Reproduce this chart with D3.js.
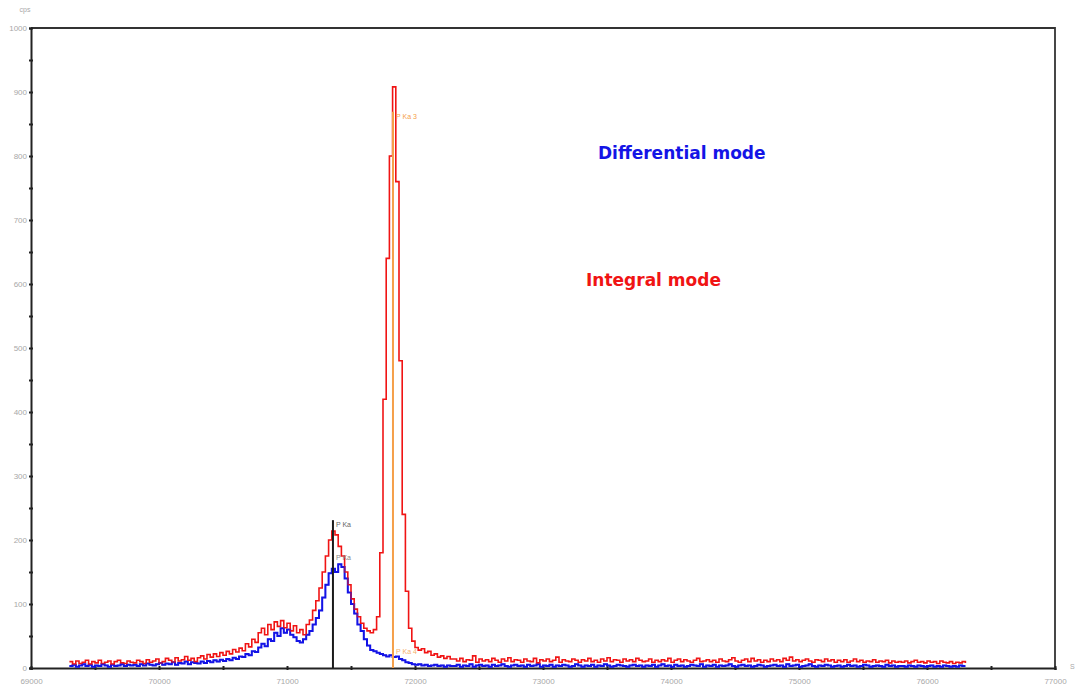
<!DOCTYPE html>
<html>
<head>
<meta charset="utf-8">
<script src="https://cdn.jsdelivr.net/npm/d3@7"></script>
<style>
  body { margin: 0; background: #fff; }
  svg { display: block; }
  .axis path { stroke: #222; stroke-width: 2; }
  .axis line { stroke: #222; stroke-width: 2; }
  .axis text { fill: #a8a8a8; font: 8px "Liberation Sans", Arial, sans-serif; }
</style>
</head>
<body>
<svg width="1075" height="688"></svg>
<script>
// spectrum channels: 25 eV wide, first channel at 69300 eV
var startEnergy = 69300, channelWidth = 25;

// Integral mode (red), cps per channel
var integral = [
  10, 6, 11, 7, 9, 12, 6, 10, 8, 12, 7, 9, 11, 6, 10, 12, 8, 7, 11, 9,
  8, 12, 10, 7, 13, 9, 11, 14, 8, 10, 15, 12, 9, 16, 11, 13, 18, 12, 15, 10,
  16, 19, 14, 21, 17, 22, 18, 24, 20, 26, 22, 29, 25, 31, 27, 38, 33, 45, 40, 55,
  62, 52, 68, 60, 72, 65, 74, 63, 70, 58, 66, 55, 60, 52, 68, 75, 90, 105, 125, 150,
  175, 200, 214, 208, 190, 175, 150, 130, 108, 92, 80, 70, 62, 58, 55, 60, 80, 180, 420, 640,
  800, 908, 760, 480, 240, 120, 62, 42, 32, 28, 30, 24, 26, 20, 22, 17, 19, 15, 18, 14,
  14, 11, 15, 10, 13, 12, 19, 9, 14, 11, 13, 10, 15, 12, 9, 14, 11, 16, 10, 13,
  12, 9, 14, 11, 10, 15, 8, 13, 11, 14, 10, 12, 17, 9, 13, 11, 10, 14, 12, 9,
  13, 11, 15, 10, 12, 9, 14, 11, 16, 10, 13, 12, 9, 14, 11, 13, 10, 15, 12, 10,
  11, 14, 9, 12, 10, 13, 11, 15, 9, 12, 14, 10, 13, 11, 9, 12, 15, 10, 11, 13,
  10, 12, 9, 14, 11, 10, 13, 16, 11, 9, 12, 14, 10, 15, 11, 13, 9, 12, 10, 14,
  11, 13, 10, 15, 12, 17, 11, 13, 10, 12, 14, 11, 9, 13, 12, 10, 14, 11, 13, 9,
  12, 10, 13, 9, 11, 14, 10, 12, 9, 11, 10, 13, 9, 11, 10, 12, 8, 11, 9, 10,
  9, 11, 8, 10, 12, 9, 10, 8, 11, 9, 10, 7, 11, 9, 8, 10, 7, 9, 8, 10,
  8
];

// Differential mode (blue), cps per channel
var differential = [
  3, 5, 2, 4, 6, 3, 5, 2, 4, 3, 6, 4, 2, 5, 3, 4, 6, 3, 5, 4,
  5, 3, 6, 4, 7, 5, 4, 6, 8, 5, 7, 6, 9, 5, 8, 7, 10, 6, 9, 8,
  7, 10, 8, 11, 9, 12, 10, 13, 11, 14, 12, 16, 14, 18, 17, 22, 20, 26, 25, 32,
  38, 34, 45, 42, 55, 50, 62, 55, 60, 52, 48, 42, 40, 45, 52, 58, 68, 78, 90, 110,
  130, 148, 155, 150, 162, 158, 140, 118, 100, 85, 68, 58, 45, 35, 28, 26, 24, 22, 20, 18,
  20, 17, 18, 14, 12, 9, 8, 6, 5, 6, 4, 5, 3, 4, 5, 3, 4, 2, 4, 3,
  3, 5, 2, 4, 3, 6, 2, 4, 5, 3, 4, 2, 5, 3, 4, 6, 3, 2, 4, 5,
  3, 4, 2, 5, 3, 4, 6, 2, 4, 3, 5, 2, 4, 3, 5, 4, 2, 3, 6, 4,
  2, 4, 3, 5, 2, 4, 3, 6, 4, 2, 3, 5, 4, 3, 2, 4, 5, 3, 4, 2,
  4, 3, 5, 2, 4, 6, 3, 4, 2, 5, 3, 4, 2, 3, 5, 4, 3, 6, 2, 4,
  3, 5, 2, 4, 3, 4, 6, 3, 2, 4, 5, 3, 4, 2, 3, 5, 4, 2, 3, 4,
  5, 3, 4, 2, 6, 3, 4, 5, 2, 3, 4, 6, 3, 2, 4, 3, 5, 4, 2, 3,
  4, 2, 3, 5, 3, 4, 2, 3, 5, 4, 2, 3, 4, 3, 2, 5, 3, 4, 2, 3,
  3, 2, 4, 3, 2, 4, 3, 2, 3, 4, 2, 3, 2, 4, 3, 2, 3, 2, 4, 3,
  3
];

// line markers
var markerEnergies = [71359, 71828];
var markerTops = [231, 869];
var markerColors = ["#1a1a1a", "#f5a04a"];
var markerLabelsTop = ["P Ka", "P Ka 3"];
var markerLabelsLow = ["P Ka", "P Ka 4"];
var markerLowCps = [168, 22];

var xTicks = d3.range(69000, 77001, 500);
var yTicks = d3.range(0, 1001, 50);

var svg = d3.select("svg"),
    margin = {top: 28, right: 20, bottom: 20, left: 31},
    width = 1055 - margin.left,
    height = 668 - margin.top,
    g = svg.append("g").attr("transform", "translate(" + margin.left + "," + margin.top + ")");

var x = d3.scaleLinear().domain([69000, 77000]).range([0, width]),
    y = d3.scaleLinear().domain([0, 1000]).range([height, 0]);

// frame (top and right)
g.append("path")
    .attr("d", "M0,0H" + width + "V" + height)
    .attr("fill", "none")
    .attr("stroke", "#333")
    .attr("stroke-width", 1.8);

var xAxis = g.append("g")
    .attr("class", "axis")
    .attr("transform", "translate(0," + height + ")")
    .call(d3.axisBottom(x).tickValues(xTicks).tickSize(2).tickPadding(8)
      .tickFormat(function(d) { return d % 1000 ? "" : d; }));
xAxis.selectAll(".tick line").attr("y1", -2);

var yAxis = g.append("g")
    .attr("class", "axis")
    .call(d3.axisLeft(y).tickValues(yTicks).tickSize(2).tickPadding(2)
      .tickFormat(function(d) { return d % 100 ? "" : d; }));
yAxis.selectAll(".tick line").attr("x1", 2);
yAxis.selectAll(".tick text").attr("dy", "0.35em");

var line = d3.line()
    .curve(d3.curveStepAfter)
    .x(function(d, i) { return x(startEnergy + i * channelWidth); })
    .y(function(d) { return y(d); });

g.append("path")
    .datum(differential)
    .attr("fill", "none")
    .attr("stroke", "#1414e6")
    .attr("stroke-width", 2)
    .attr("d", line);

g.append("path")
    .datum(integral)
    .attr("fill", "none")
    .attr("stroke", "#f01414")
    .attr("stroke-width", 1.6)
    .attr("d", line);

g.append("path")
    .datum(differential)
    .attr("fill", "none")
    .attr("stroke", "#1414e6")
    .attr("stroke-width", 1.2)
    .attr("stroke-opacity", 0.6)
    .attr("d", line);

markerEnergies.forEach(function(e, i) {
  g.append("line")
      .attr("x1", x(e)).attr("x2", x(e))
      .attr("y1", y(markerTops[i])).attr("y2", y(0))
      .attr("stroke", markerColors[i])
      .attr("stroke-width", 2);
  g.append("text")
      .attr("x", x(e) + 3).attr("y", y(markerTops[i]) + 7)
      .attr("fill", i ? "#f5a04a" : "#666")
      .style("font", "7px 'Liberation Sans', Arial, sans-serif")
      .text(markerLabelsTop[i]);
  g.append("text")
      .attr("x", x(e) + 3).attr("y", y(markerLowCps[i]))
      .attr("fill", i ? "#f5b06a" : "#888")
      .style("font", "7px 'Liberation Sans', Arial, sans-serif")
      .text(markerLabelsLow[i]);
});

svg.append("text")
    .attr("x", 25).attr("y", 12)
    .attr("text-anchor", "middle")
    .attr("fill", "#a8a8a8")
    .style("font", "7px 'Liberation Sans', Arial, sans-serif")
    .text("cps");

svg.append("text")
    .attr("x", 1070).attr("y", 669)
    .attr("fill", "#a8a8a8")
    .style("font", "7px 'Liberation Sans', Arial, sans-serif")
    .text("S");

svg.append("text")
    .attr("x", 598).attr("y", 159)
    .attr("fill", "#1414e6")
    .style("font", "bold 17px 'DejaVu Sans', sans-serif")
    .text("Differential mode");

svg.append("text")
    .attr("x", 586).attr("y", 286)
    .attr("fill", "#f01414")
    .style("font", "bold 17px 'DejaVu Sans', sans-serif")
    .text("Integral mode");
</script>
</body>
</html>
